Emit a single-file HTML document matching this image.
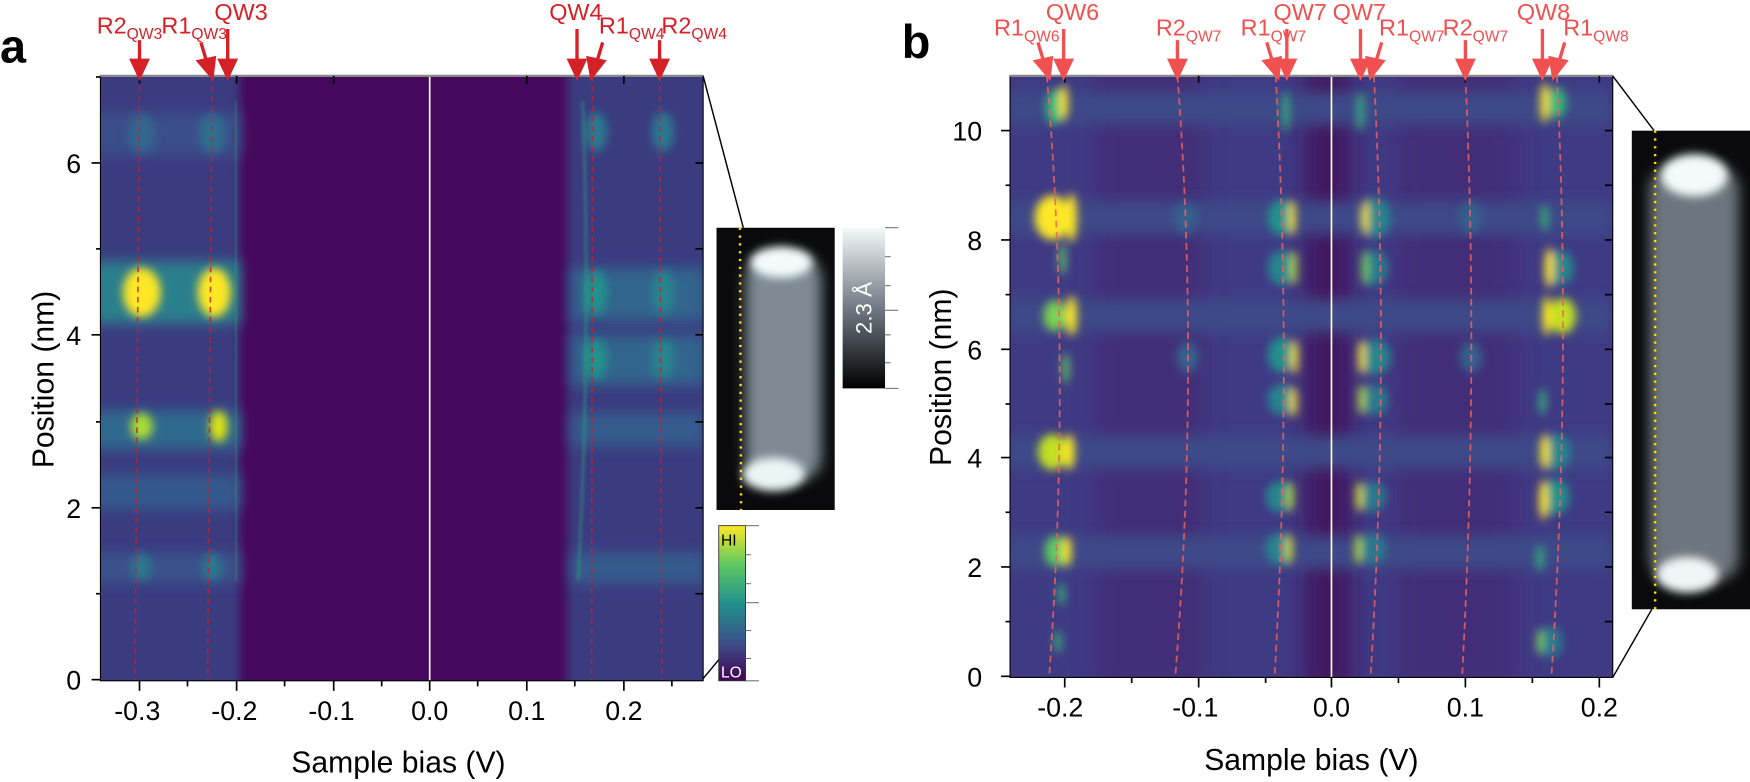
<!DOCTYPE html>
<html><head><meta charset="utf-8"><style>html,body{margin:0;padding:0;background:#fff;}svg{display:block;}text{font-family:"Liberation Sans",sans-serif;}</style></head><body>
<svg width="1750" height="782" viewBox="0 0 1568 700.7" preserveAspectRatio="none" xmlns="http://www.w3.org/2000/svg">
<defs>
<filter id="b6" x="-50%" y="-50%" width="200%" height="200%"><feGaussianBlur stdDeviation="6"/></filter>
<filter id="b3" x="-50%" y="-50%" width="200%" height="200%"><feGaussianBlur stdDeviation="4"/></filter>
<filter id="b10" x="-50%" y="-50%" width="200%" height="200%"><feGaussianBlur stdDeviation="10"/></filter>
<filter id="b2" x="-50%" y="-50%" width="200%" height="200%"><feGaussianBlur stdDeviation="1.5"/></filter>
<linearGradient id="vir" x1="0" y1="1" x2="0" y2="0"><stop offset="0" stop-color="#440154"/><stop offset="0.25" stop-color="#3b528b"/><stop offset="0.5" stop-color="#21918c"/><stop offset="0.75" stop-color="#5ec962"/><stop offset="1" stop-color="#fde725"/></linearGradient>
<linearGradient id="gry" x1="0" y1="1" x2="0" y2="0"><stop offset="0" stop-color="#000"/><stop offset="0.5" stop-color="#707a84"/><stop offset="1" stop-color="#f4fafa"/></linearGradient>
<clipPath id="ca"><rect x="90" y="68" width="540" height="542"/></clipPath>
<clipPath id="cb"><rect x="905" y="68" width="540" height="539"/></clipPath>
<clipPath id="ia"><rect x="642" y="204" width="106" height="253"/></clipPath>
<clipPath id="ib"><rect x="1462" y="117" width="106" height="429"/></clipPath>
</defs>

<g clip-path="url(#ca)">
<rect x="90" y="68" width="540" height="542" fill="#46085c"/>
<rect x="80" y="60" width="135" height="560" fill="#3a3a80" filter="url(#b3)"/>
<rect x="508" y="60" width="132" height="560" fill="#3a3a80" filter="url(#b3)"/>
<rect x="80" y="234" width="135" height="56" fill="#2a7f8c" filter="url(#b6)"/>
<rect x="80" y="368" width="135" height="34" fill="#2e6a8e" filter="url(#b6)"/>
<rect x="80" y="425" width="135" height="32" fill="#36598c" filter="url(#b6)"/>
<rect x="80" y="495" width="135" height="28" fill="#3a518b" filter="url(#b6)"/>
<rect x="80" y="100" width="135" height="40" fill="#3a4e8a" filter="url(#b6)"/>
<ellipse cx="127" cy="262" rx="17" ry="22" fill="#fde725" filter="url(#b3)"/>
<ellipse cx="192" cy="262" rx="15" ry="22" fill="#fde725" filter="url(#b3)"/>
<ellipse cx="127" cy="382" rx="10" ry="12" fill="#a8db34" filter="url(#b3)"/>
<ellipse cx="196" cy="382" rx="8" ry="14" fill="#dce319" filter="url(#b3)"/>
<ellipse cx="127" cy="508" rx="9" ry="12" fill="#2a788e" filter="url(#b3)"/>
<ellipse cx="190" cy="508" rx="9" ry="12" fill="#2a788e" filter="url(#b3)"/>
<ellipse cx="190" cy="120" rx="12" ry="18" fill="#2e6e8e" filter="url(#b3)"/>
<ellipse cx="127" cy="120" rx="12" ry="18" fill="#31668e" filter="url(#b3)"/>
<rect x="512" y="240" width="120" height="48" fill="#30658d" filter="url(#b6)"/>
<rect x="512" y="300" width="120" height="45" fill="#30658d" filter="url(#b6)"/>
<rect x="512" y="370" width="120" height="30" fill="#355c8c" filter="url(#b6)"/>
<rect x="512" y="495" width="120" height="28" fill="#355c8c" filter="url(#b6)"/>
<ellipse cx="534" cy="262" rx="10" ry="20" fill="#21918c" filter="url(#b3)"/>
<ellipse cx="594" cy="262" rx="10" ry="20" fill="#25858e" filter="url(#b3)"/>
<ellipse cx="534" cy="322" rx="10" ry="18" fill="#21918c" filter="url(#b3)"/>
<ellipse cx="594" cy="322" rx="10" ry="18" fill="#25858e" filter="url(#b3)"/>
<ellipse cx="594" cy="118" rx="10" ry="18" fill="#2a788e" filter="url(#b3)"/>
<ellipse cx="534" cy="118" rx="10" ry="18" fill="#2a788e" filter="url(#b3)"/>
<path d="M522,90 Q530,300 518,520" stroke="#2fb47c" stroke-width="2" fill="none" filter="url(#b2)" opacity="0.55"/>
<path d="M211,90 L212,520" stroke="#35b779" stroke-width="2" fill="none" filter="url(#b2)" opacity="0.45"/>
<line x1="385" y1="68" x2="385" y2="610" stroke="#fff" stroke-width="1.5"/>
<g stroke="#c8202a" stroke-width="1.5" stroke-dasharray="5,4" fill="none" opacity="0.8">
<path d="M125,68 L121,610"/><path d="M190,68 L186,610"/><path d="M531,68 L530,610"/><path d="M591,68 L593,610"/>
</g>
</g>
<rect x="90" y="68" width="540" height="542" fill="none" stroke="#000" stroke-width="1"/>
<line x1="90" y1="68" x2="630" y2="68" stroke="#888" stroke-width="2"/>
<g stroke="#000" stroke-width="1.5">
<line x1="125" y1="610" x2="125" y2="619"/><line x1="212" y1="610" x2="212" y2="619"/><line x1="299" y1="610" x2="299" y2="619"/><line x1="385" y1="610" x2="385" y2="619"/><line x1="472" y1="610" x2="472" y2="619"/><line x1="559" y1="610" x2="559" y2="619"/>
<line x1="168" y1="610" x2="168" y2="615"/><line x1="255" y1="610" x2="255" y2="615"/><line x1="342" y1="610" x2="342" y2="615"/><line x1="428" y1="610" x2="428" y2="615"/><line x1="515" y1="610" x2="515" y2="615"/><line x1="602" y1="610" x2="602" y2="615"/>
<line x1="125" y1="68" x2="125" y2="75"/><line x1="212" y1="68" x2="212" y2="75"/><line x1="299" y1="68" x2="299" y2="75"/><line x1="472" y1="68" x2="472" y2="75"/><line x1="559" y1="68" x2="559" y2="75"/>
<line x1="82" y1="609" x2="90" y2="609"/><line x1="82" y1="455" x2="90" y2="455"/><line x1="82" y1="300" x2="90" y2="300"/><line x1="82" y1="146" x2="90" y2="146"/>
<line x1="86" y1="532" x2="90" y2="532"/><line x1="86" y1="378" x2="90" y2="378"/><line x1="86" y1="223" x2="90" y2="223"/><line x1="86" y1="69" x2="90" y2="69"/>
<line x1="623" y1="146" x2="630" y2="146"/><line x1="623" y1="223" x2="630" y2="223"/><line x1="623" y1="300" x2="630" y2="300"/><line x1="623" y1="378" x2="630" y2="378"/><line x1="623" y1="455" x2="630" y2="455"/><line x1="623" y1="532" x2="630" y2="532"/>
</g>
<g font-size="24" fill="#000" text-anchor="middle">
<text x="123" y="645">-0.3</text><text x="210" y="645">-0.2</text><text x="297" y="645">-0.1</text><text x="385" y="645">0.0</text><text x="472" y="645">0.1</text><text x="559" y="645">0.2</text>
<text x="66" y="618">0</text><text x="66" y="464">2</text><text x="66" y="309">4</text><text x="66" y="155">6</text>
</g>
<text x="357" y="692" font-size="27" text-anchor="middle">Sample bias (V)</text>
<text transform="translate(48,340) rotate(-90)" font-size="27" text-anchor="middle">Position (nm)</text>
<text x="0" y="56" font-size="42" font-weight="bold">a</text>

<g stroke="#d42027" stroke-width="3" fill="#d42027">
<line x1="125" y1="36" x2="125" y2="58"/><polygon points="118,54 132,54 125,69"/>
<line x1="180" y1="38" x2="186" y2="58"/><polygon points="178,55 192,52 190,69"/>
<line x1="204" y1="26" x2="204" y2="58"/><polygon points="197,54 211,54 204,69"/>
<line x1="517" y1="26" x2="517" y2="58"/><polygon points="510,54 524,54 517,69"/>
<line x1="540" y1="38" x2="534" y2="58"/><polygon points="527,52 541,55 530,69"/>
<line x1="591" y1="36" x2="591" y2="58"/><polygon points="584,54 598,54 591,69"/>
</g>
<g fill="#d42027" font-size="21" text-anchor="middle">
<text x="116" y="30">R2<tspan font-size="14" dy="5">QW3</tspan></text>
<text x="174" y="30">R1<tspan font-size="14" dy="5">QW3</tspan></text>
<text x="216" y="18">QW3</text>
<text x="516" y="18">QW4</text>
<text x="566" y="30">R1<tspan font-size="14" dy="5">QW4</tspan></text>
<text x="622" y="30">R2<tspan font-size="14" dy="5">QW4</tspan></text>
</g>

<line x1="630" y1="68" x2="666" y2="204" stroke="#000" stroke-width="1.3"/>
<line x1="630" y1="608" x2="645" y2="590" stroke="#000" stroke-width="1.3"/>
<g clip-path="url(#ia)">
<rect x="642" y="204" width="106" height="253" fill="#0a0a0c"/>
<rect x="668" y="230" width="68" height="200" rx="20" fill="#7d8a94" filter="url(#b6)"/>
<ellipse cx="700" cy="235" rx="28" ry="14" fill="#f2fbfa" filter="url(#b3)"/>
<ellipse cx="693" cy="425" rx="28" ry="15" fill="#eaf5f4" filter="url(#b3)"/>
<line x1="663" y1="204" x2="664" y2="457" stroke="#ffe000" stroke-width="2.2" stroke-dasharray="2,5"/>
</g>
<rect x="755" y="204" width="38" height="144" fill="url(#gry)"/>
<g stroke="#777" stroke-width="1"><line x1="793" y1="204" x2="805" y2="204"/><line x1="793" y1="230" x2="798" y2="230"/><line x1="793" y1="256" x2="798" y2="256"/><line x1="793" y1="278" x2="805" y2="278"/><line x1="793" y1="300" x2="798" y2="300"/><line x1="793" y1="325" x2="798" y2="325"/><line x1="793" y1="348" x2="805" y2="348"/></g>
<text transform="translate(781,276) rotate(-90)" font-size="20" fill="#fff" text-anchor="middle">2.3 Å</text>
<rect x="644" y="471" width="24" height="139" fill="url(#vir)" stroke="#333" stroke-width="0.8"/>
<g stroke="#777" stroke-width="1"><line x1="668" y1="471" x2="680" y2="471"/><line x1="668" y1="497" x2="673" y2="497"/><line x1="668" y1="523" x2="673" y2="523"/><line x1="668" y1="540" x2="680" y2="540"/><line x1="668" y1="565" x2="673" y2="565"/><line x1="668" y1="590" x2="673" y2="590"/><line x1="668" y1="610" x2="680" y2="610"/></g>
<text x="646" y="489" font-size="14">HI</text>
<text x="646" y="607" font-size="14" fill="#fff">LO</text>

<g clip-path="url(#cb)">
<rect x="905" y="68" width="540" height="539" fill="#3f3a84"/>
<rect x="1170" y="60" width="40" height="560" fill="#43125f" filter="url(#b10)"/>
<rect x="980" y="60" width="100" height="560" fill="#432d78" filter="url(#b10)"/>
<rect x="1250" y="60" width="110" height="560" fill="#432d78" filter="url(#b10)"/>
<g fill="#3d4888" filter="url(#b6)">
<rect x="900" y="180" width="545" height="30"/><rect x="900" y="268" width="545" height="30"/><rect x="900" y="390" width="545" height="30"/><rect x="900" y="480" width="545" height="30"/><rect x="900" y="82" width="545" height="30"/>
</g>
<g filter="url(#b3)">
<ellipse cx="943" cy="195" rx="16" ry="20" fill="#fde725"/><ellipse cx="960" cy="195" rx="5" ry="22" fill="#fde725"/>
<ellipse cx="945" cy="283" rx="10" ry="14" fill="#7ad151"/><ellipse cx="960" cy="283" rx="5" ry="18" fill="#fde725"/>
<ellipse cx="943" cy="405" rx="13" ry="16" fill="#c2df23"/><ellipse cx="958" cy="405" rx="5" ry="16" fill="#fde725"/>
<ellipse cx="946" cy="494" rx="10" ry="14" fill="#5ec962"/><ellipse cx="956" cy="494" rx="4" ry="14" fill="#fde725"/>
<ellipse cx="945" cy="96" rx="8" ry="16" fill="#35b779"/><ellipse cx="953" cy="92" rx="4" ry="16" fill="#fde725"/>
<ellipse cx="952" cy="232" rx="3" ry="14" fill="#5ec962"/><ellipse cx="955" cy="330" rx="3" ry="14" fill="#5ec962"/>
<ellipse cx="951" cy="532" rx="3" ry="10" fill="#35b779"/><ellipse cx="948" cy="575" rx="3" ry="10" fill="#35b779"/>
<ellipse cx="1148" cy="195" rx="12" ry="16" fill="#21918c"/><ellipse cx="1158" cy="195" rx="3" ry="16" fill="#fde725"/>
<ellipse cx="1148" cy="240" rx="12" ry="16" fill="#25858e"/><ellipse cx="1159" cy="240" rx="3" ry="16" fill="#b5de2b"/>
<ellipse cx="1148" cy="318" rx="12" ry="16" fill="#21918c"/><ellipse cx="1160" cy="320" rx="3" ry="16" fill="#fde725"/>
<ellipse cx="1148" cy="358" rx="12" ry="14" fill="#25858e"/><ellipse cx="1159" cy="360" rx="3" ry="14" fill="#fde725"/>
<ellipse cx="1146" cy="445" rx="12" ry="14" fill="#25858e"/><ellipse cx="1156" cy="445" rx="3" ry="14" fill="#b5de2b"/>
<ellipse cx="1146" cy="492" rx="12" ry="14" fill="#25858e"/><ellipse cx="1155" cy="492" rx="3" ry="14" fill="#dce319"/>
<ellipse cx="1152" cy="100" rx="3" ry="18" fill="#35b779"/>
<ellipse cx="1232" cy="195" rx="14" ry="18" fill="#25858e"/><ellipse cx="1223" cy="195" rx="3" ry="16" fill="#fde725"/>
<ellipse cx="1232" cy="240" rx="12" ry="16" fill="#2a788e"/><ellipse cx="1223" cy="240" rx="3" ry="16" fill="#7ad151"/>
<ellipse cx="1232" cy="320" rx="14" ry="16" fill="#25858e"/><ellipse cx="1220" cy="320" rx="3" ry="16" fill="#fde725"/>
<ellipse cx="1232" cy="358" rx="12" ry="14" fill="#2a788e"/><ellipse cx="1220" cy="358" rx="3" ry="14" fill="#b5de2b"/>
<ellipse cx="1230" cy="445" rx="12" ry="14" fill="#2a788e"/><ellipse cx="1218" cy="445" rx="3" ry="14" fill="#dce319"/>
<ellipse cx="1230" cy="492" rx="12" ry="14" fill="#2a788e"/><ellipse cx="1217" cy="492" rx="3" ry="14" fill="#b5de2b"/>
<ellipse cx="1219" cy="100" rx="3" ry="18" fill="#35b779"/>
<ellipse cx="1384" cy="92" rx="4" ry="18" fill="#fde725"/><ellipse cx="1395" cy="92" rx="8" ry="14" fill="#35b779"/>
<ellipse cx="1398" cy="240" rx="12" ry="16" fill="#25858e"/><ellipse cx="1388" cy="240" rx="4" ry="18" fill="#fde725"/>
<ellipse cx="1400" cy="283" rx="12" ry="16" fill="#c2df23"/><ellipse cx="1386" cy="283" rx="4" ry="18" fill="#fde725"/>
<ellipse cx="1395" cy="405" rx="12" ry="16" fill="#25858e"/><ellipse cx="1384" cy="405" rx="4" ry="16" fill="#fde725"/>
<ellipse cx="1394" cy="445" rx="12" ry="16" fill="#21918c"/><ellipse cx="1383" cy="448" rx="4" ry="18" fill="#fde725"/>
<ellipse cx="1390" cy="575" rx="10" ry="14" fill="#2a788e"/><ellipse cx="1380" cy="575" rx="3" ry="12" fill="#7ad151"/>
<ellipse cx="1384" cy="195" rx="3" ry="12" fill="#35b779"/><ellipse cx="1382" cy="360" rx="3" ry="12" fill="#35b779"/><ellipse cx="1380" cy="500" rx="3" ry="12" fill="#35b779"/>
<ellipse cx="1062" cy="195" rx="10" ry="14" fill="#34618d"/><ellipse cx="1064" cy="320" rx="10" ry="14" fill="#34618d"/>
<ellipse cx="1318" cy="195" rx="10" ry="14" fill="#34618d"/><ellipse cx="1318" cy="320" rx="10" ry="14" fill="#34618d"/>
</g>
<line x1="1193" y1="68" x2="1193" y2="607" stroke="#fff" stroke-width="1.5"/>
<g stroke="#f0605a" stroke-width="1.6" stroke-dasharray="6,4" fill="none" opacity="0.85">
<path d="M938,68 Q960,330 940,607"/>
<path d="M1055,68 Q1075,330 1053,607"/>
<path d="M1143,68 Q1158,330 1142,607"/>
<path d="M1231,68 Q1245,330 1228,607"/>
<path d="M1313,68 Q1325,330 1310,607"/>
<path d="M1395,68 Q1408,330 1390,607"/>
</g>
</g>
<rect x="905" y="68" width="540" height="539" fill="none" stroke="#000" stroke-width="1"/>
<line x1="905" y1="68" x2="1445" y2="68" stroke="#888" stroke-width="2"/>
<g stroke="#000" stroke-width="1.5">
<line x1="954" y1="607" x2="954" y2="616"/><line x1="1074" y1="607" x2="1074" y2="616"/><line x1="1193" y1="607" x2="1193" y2="616"/><line x1="1313" y1="607" x2="1313" y2="616"/><line x1="1433" y1="607" x2="1433" y2="616"/>
<line x1="1014" y1="607" x2="1014" y2="612"/><line x1="1134" y1="607" x2="1134" y2="612"/><line x1="1253" y1="607" x2="1253" y2="612"/><line x1="1373" y1="607" x2="1373" y2="612"/><line x1="954" y1="68" x2="954" y2="74"/><line x1="1074" y1="68" x2="1074" y2="74"/><line x1="1313" y1="68" x2="1313" y2="74"/><line x1="1433" y1="68" x2="1433" y2="74"/>
<line x1="897" y1="606" x2="905" y2="606"/><line x1="897" y1="508" x2="905" y2="508"/><line x1="897" y1="410" x2="905" y2="410"/><line x1="897" y1="313" x2="905" y2="313"/><line x1="897" y1="215" x2="905" y2="215"/><line x1="897" y1="117" x2="905" y2="117"/>
<line x1="901" y1="557" x2="905" y2="557"/><line x1="901" y1="459" x2="905" y2="459"/><line x1="901" y1="362" x2="905" y2="362"/><line x1="901" y1="264" x2="905" y2="264"/><line x1="901" y1="166" x2="905" y2="166"/>
<line x1="1438" y1="117" x2="1445" y2="117"/><line x1="1438" y1="166" x2="1445" y2="166"/><line x1="1438" y1="215" x2="1445" y2="215"/><line x1="1438" y1="264" x2="1445" y2="264"/><line x1="1438" y1="313" x2="1445" y2="313"/><line x1="1438" y1="362" x2="1445" y2="362"/><line x1="1438" y1="410" x2="1445" y2="410"/><line x1="1438" y1="459" x2="1445" y2="459"/><line x1="1438" y1="508" x2="1445" y2="508"/><line x1="1438" y1="557" x2="1445" y2="557"/>
</g>
<g font-size="24" fill="#000" text-anchor="middle">
<text x="950" y="642">-0.2</text><text x="1071" y="642">-0.1</text><text x="1193" y="642">0.0</text><text x="1313" y="642">0.1</text><text x="1433" y="642">0.2</text>
</g>
<g font-size="24" fill="#000" text-anchor="end">
<text x="880" y="615">0</text><text x="880" y="517">2</text><text x="880" y="419">4</text><text x="880" y="322">6</text><text x="880" y="224">8</text><text x="880" y="126">10</text>
</g>
<text x="1175" y="690" font-size="27" text-anchor="middle">Sample bias (V)</text>
<text transform="translate(852,338) rotate(-90)" font-size="27" text-anchor="middle">Position (nm)</text>
<text x="808" y="52" font-size="42" font-weight="bold">b</text>
<g stroke="#f05050" stroke-width="3" fill="#f05050">
<line x1="930" y1="38" x2="936" y2="58"/><polygon points="928,55 942,52 940,69"/>
<line x1="953" y1="26" x2="953" y2="58"/><polygon points="946,54 960,54 953,69"/>
<line x1="1055" y1="36" x2="1055" y2="58"/><polygon points="1048,54 1062,54 1055,69"/>
<line x1="1135" y1="38" x2="1141" y2="58"/><polygon points="1133,55 1147,52 1145,69"/>
<line x1="1153" y1="26" x2="1153" y2="58"/><polygon points="1146,54 1160,54 1153,69"/>
<line x1="1219" y1="26" x2="1219" y2="58"/><polygon points="1212,54 1226,54 1219,69"/>
<line x1="1238" y1="38" x2="1232" y2="58"/><polygon points="1225,52 1239,55 1228,69"/>
<line x1="1313" y1="36" x2="1313" y2="58"/><polygon points="1306,54 1320,54 1313,69"/>
<line x1="1382" y1="26" x2="1382" y2="58"/><polygon points="1375,54 1389,54 1382,69"/>
<line x1="1402" y1="38" x2="1396" y2="58"/><polygon points="1389,52 1403,55 1392,69"/>
</g>
<g fill="#f05050" font-size="21" text-anchor="middle">
<text x="920" y="32">R1<tspan font-size="14" dy="5">QW6</tspan></text>
<text x="961" y="18">QW6</text>
<text x="1065" y="32">R2<tspan font-size="14" dy="5">QW7</tspan></text>
<text x="1141" y="32">R1<tspan font-size="14" dy="5">QW7</tspan></text>
<text x="1165" y="18">QW7</text>
<text x="1218" y="18">QW7</text>
<text x="1265" y="32">R1<tspan font-size="14" dy="5">QW7</tspan></text>
<text x="1322" y="32">R2<tspan font-size="14" dy="5">QW7</tspan></text>
<text x="1383" y="18">QW8</text>
<text x="1430" y="32">R1<tspan font-size="14" dy="5">QW8</tspan></text>
</g>
<line x1="1445" y1="68" x2="1482" y2="117" stroke="#000" stroke-width="1.3"/>
<line x1="1445" y1="607" x2="1480" y2="546" stroke="#000" stroke-width="1.3"/>
<g clip-path="url(#ib)">
<rect x="1462" y="117" width="106" height="429" fill="#0a0a0c"/>
<rect x="1478" y="150" width="80" height="370" rx="20" fill="#6d767e" filter="url(#b6)"/>
<ellipse cx="1518" cy="157" rx="30" ry="19" fill="#f2fbfa" filter="url(#b3)"/>
<ellipse cx="1512" cy="515" rx="28" ry="16" fill="#eef6f6" filter="url(#b3)"/>
<line x1="1483" y1="117" x2="1483" y2="546" stroke="#ffe000" stroke-width="2.2" stroke-dasharray="2,5"/>
</g>
</svg>
</body></html>
